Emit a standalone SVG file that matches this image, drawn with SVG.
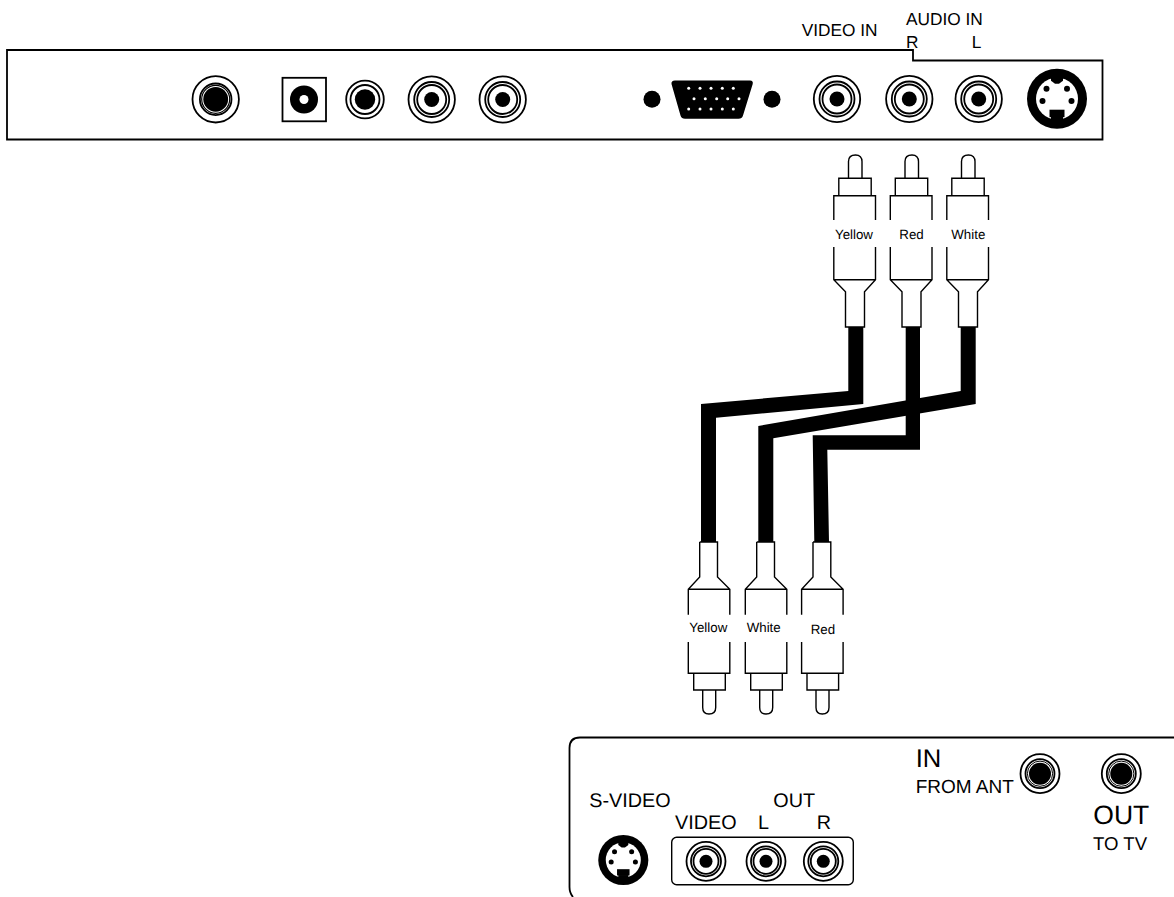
<svg xmlns="http://www.w3.org/2000/svg" width="1174" height="897" viewBox="0 0 1174 897">
<style>
.l{fill:none;stroke:#000;stroke-width:1.8}
.p{fill:none;stroke:#000;stroke-width:1.4}
.r{fill:#fff;stroke:#000;stroke-width:1.8}
.k{fill:#000;stroke:none}
.w{fill:#fff;stroke:none}
text{font-family:"Liberation Sans",Arial,sans-serif;fill:#000;text-rendering:geometricPrecision}
.s{font-size:13.3px}
.m{font-size:17.3px}
.b{font-size:19.8px}
</style>
<defs>
<g id="rca"><circle class="r" r="23.200"/><circle class="r" r="17.500"/><circle class="r" r="14.500"/><circle class="k" r="7.500"/></g>
<g id="rcas"><circle class="r" r="19.500"/><circle class="r" r="15"/><circle class="r" r="12.500"/><circle class="k" r="6.500"/></g>
<g id="coax"><circle class="r" r="23.200"/><circle class="r" r="15.800"/><circle fill="#fff" stroke="#000" stroke-width="1.200" r="14"/><circle class="k" r="12.400"/></g>
<g id="coaxs"><circle class="r" r="19.500"/><circle class="r" r="14.500"/><circle fill="#fff" stroke="#000" stroke-width="1" r="12.600"/><circle class="k" r="11"/></g>
<g id="svid"><circle class="k" r="30"/><circle class="w" r="21"/><path class="k" d="M-6 -22H6L6 -18L2 -15H-2L-6 -18Z"/><rect class="k" x="-7.500" y="11" width="15" height="7.500"/><path class="k" d="M-6 18H6V22H-6Z"/><circle class="k" cx="-10.500" cy="-10" r="3"/><circle class="k" cx="10" cy="-10" r="3"/><circle class="k" cx="-14.500" cy="2.300" r="3"/><circle class="k" cx="14.500" cy="2.300" r="3"/></g>
<g id="plug-up"><path class="p" d="M-7 23V6.500Q-7 0 0 0Q6.500 0 6.500 6.500V23"/><path class="p" d="M-16.700 41V23.300H15.700V41"/><path class="p" d="M-21.700 65V40.700H20V65M-21.700 92V124.700L-10 136.700V172H9V136.700L20 124.700V92M-21.700 124.700H20"/></g>
<g id="plug-down"><path class="p" d="M-8.800 0V35L-20.200 47.300V72.700M-20.200 100V131.300H21.300V100M21.300 72.700V47.300L9 35V0H-8.800M-20.200 47.300H21.300"/><path class="p" d="M-14.800 131.300V148H16.800V131.300"/><path class="p" d="M-5.800 148V165.500Q-5.800 172 0.500 172Q7.200 172 7.200 165.500V148"/></g>
</defs>
<g id="connectors">
<path class="k" d="M848.300 327V391L701 404V542H716V417.700L863.300 404V327Z"/>
<path class="k" d="M905.700 327V435.300H812.700L814.300 542H829L827.300 449.700H920V327Z"/>
<path class="k" d="M960.700 327V391L758.300 426V542H773.300V438.300L975.700 404V327Z"/>
</g>
<g id="top-panel">
<path class="l" d="M913 50H7V139.500H1102.500V60.500H913Z"/>
<use href="#coax" x="215.700" y="99.300"/>
<rect class="l" x="282.500" y="77.800" width="43.500" height="43.500"/>
<circle class="k" cx="304" cy="99.500" r="14"/><circle class="w" cx="304" cy="99.500" r="4.500"/>
<g transform="translate(365 99.500)"><circle class="r" r="18.800"/><circle class="r" r="14.500"/><circle class="k" r="10.200"/></g>
<use href="#rca" x="431.700" y="99.500"/>
<use href="#rca" x="502.700" y="99.500"/>
<circle class="k" cx="652" cy="99.300" r="8.500"/>
<circle class="k" cx="772" cy="99.300" r="8.500"/>
<path class="k" d="M675 80.500H750Q753.500 80.500 752.700 84L743 115.500Q742 118.800 738.500 118.800H685Q681.500 118.800 680.500 115.500L671.500 84Q671 80.500 675 80.500Z"/>
<g class="w"><circle cx="688.700" cy="88.300" r="1.500"/><circle cx="700" cy="88.300" r="1.500"/><circle cx="711" cy="88.300" r="1.500"/><circle cx="722.300" cy="88.300" r="1.500"/><circle cx="733.300" cy="88.300" r="1.500"/><circle cx="694" cy="98.700" r="1.500"/><circle cx="705.300" cy="98.700" r="1.500"/><circle cx="716.700" cy="98.700" r="1.500"/><circle cx="727.700" cy="98.700" r="1.500"/><circle cx="739" cy="98.700" r="1.500"/><circle cx="688.700" cy="109" r="1.500"/><circle cx="700" cy="109" r="1.500"/><circle cx="711" cy="109" r="1.500"/><circle cx="722.300" cy="109" r="1.500"/><circle cx="733.300" cy="109" r="1.500"/></g>
<use href="#rca" x="837" y="99"/>
<use href="#rca" x="909.300" y="99"/>
<use href="#rca" x="978.700" y="99"/>
<use href="#svid" x="1057" y="98.700"/>
<text class="m" x="801.700" y="35.700">VIDEO IN</text>
<text class="m" x="906" y="24.700">AUDIO IN</text>
<text class="m" x="906" y="48">R</text>
<text class="m" x="971.700" y="48">L</text>
</g>
<g id="plug-top-yellow"><use href="#plug-up" x="855.500" y="155"/><text class="s" x="835" y="239">Yellow</text></g>
<g id="plug-top-red"><use href="#plug-up" x="912" y="155"/><text class="s" x="899.300" y="239">Red</text></g>
<g id="plug-top-white"><use href="#plug-up" x="968.500" y="155"/><text class="s" x="951.300" y="239">White</text></g>
<g id="plug-bottom-yellow"><use href="#plug-down" x="708.500" y="542"/><text class="s" x="689.300" y="632.300">Yellow</text></g>
<g id="plug-bottom-white"><use href="#plug-down" x="765.500" y="542"/><text class="s" x="746.700" y="632">White</text></g>
<g id="plug-bottom-red"><use href="#plug-down" x="821.800" y="542"/><text class="s" x="810.700" y="634.300">Red</text></g>
<g id="bottom-panel">
<path class="l" d="M1174 737.500H580Q569.500 737.500 569.500 748V887Q569.500 893 573 897"/>
<text class="b" x="589.300" y="807.300">S-VIDEO</text>
<text class="b" x="773.300" y="807.300">OUT</text>
<text class="b" x="675" y="828.700">VIDEO</text>
<text class="b" x="758" y="828.700">L</text>
<text class="b" x="816.700" y="828.700">R</text>
<use href="#svid" transform="translate(623.300 860) scale(.835)"/>
<rect class="p" x="671.700" y="837.300" width="181.600" height="47.400" rx="5"/>
<use href="#rcas" x="706" y="861.300"/>
<use href="#rcas" x="766" y="861.300"/>
<use href="#rcas" x="823.300" y="861.300"/>
<text x="915.700" y="766.700" font-size="25.600">IN</text>
<text x="915.700" y="792.700" font-size="19">FROM ANT</text>
<use href="#coaxs" x="1040" y="773.700"/>
<use href="#coaxs" x="1121.300" y="773.700"/>
<text x="1093.300" y="824" font-size="26.500">OUT</text>
<text x="1093" y="850" font-size="18.600">TO TV</text>
</g>
</svg>
